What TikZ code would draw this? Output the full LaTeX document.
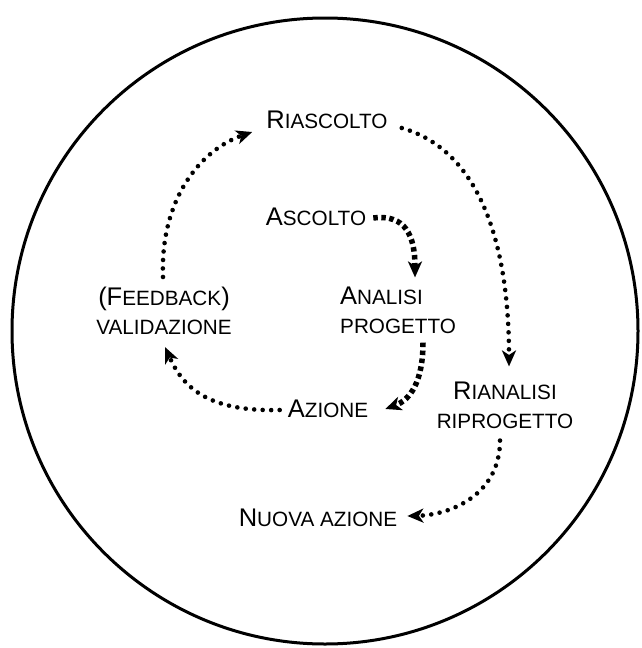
\documentclass[tikz,border=0pt]{standalone}
\usepackage{fontspec}
\setmainfont{Liberation Sans}
\usetikzlibrary{arrows.meta}
\newcommand{\biglet}[1]{{\fontsize{25.5}{29}\selectfont #1}}
\newcommand{\smlet}[1]{{\fontsize{20.7}{29}\selectfont #1}}
\tikzset{
  lbl/.style={inner sep=0pt, align=center, font=\fontsize{20.7}{29}\selectfont},
  thindots/.style={line width=4.6pt, dash pattern=on 0pt off 8.5pt, line cap=round,
    -{Stealth[length=16pt,width=14pt,inset=4.5pt]}},
  thickdots/.style={line width=5.5pt, dash pattern=on 4.5pt off 3.5pt,
    -{Stealth[length=16pt,width=14pt,inset=4.5pt]}},
}
\begin{document}
\begin{tikzpicture}[x=1pt,y=-1pt]
\useasboundingbox (0,0) rectangle (641,648);
\node[circle, draw, line width=3pt, minimum size=626pt, inner sep=0pt] (ring) at (325,331) {};
\node[lbl] (riascolto) at (327,120) {\biglet{R}\smlet{IASCOLTO}};
\node[lbl] (ascolto) at (316,217) {\biglet{A}\smlet{SCOLTO}};
\node[lbl, align=left, anchor=west] (analisi) at (340,310) {\biglet{A}\smlet{NALISI}\\\smlet{PROGETTO}};
\node[lbl] (feedback) at (164,311) {\biglet{(F}\smlet{EEDBACK}\biglet{)}\\\smlet{VALIDAZIONE}};
\node[lbl] (azione) at (328,409) {\biglet{A}\smlet{ZIONE}};
\node[lbl] (rianalisi) at (505,405) {\biglet{R}\smlet{IANALISI}\\\smlet{RIPROGETTO}};
\node[lbl] (nuova) at (318,518) {\biglet{N}\smlet{UOVA AZIONE}};

\draw[thindots] ([shift={(14,8)}]riascolto.east) .. controls (478,150) and (509,240) .. ([shift={(4,-15)}]rianalisi.north);
\draw[thickdots] ([shift={(7,1)}]ascolto.east) .. controls (405,214) and (415,235) .. ([shift={(75,-9)}]analisi.north west);
\draw[thickdots] ([shift={(83,9)}]analisi.south west) .. controls (423,382) and (410,400) .. ([shift={(17,0)}]azione.east);
\draw[thindots] ([shift={(-8,1)}]azione.west) .. controls (205,412) and (182,385) .. ([shift={(1,12)}]feedback.south);
\draw[thindots] ([shift={(-1,-10)}]feedback.north) .. controls (160,200) and (200,150) .. ([shift={(-14,12)}]riascolto.west);
\draw[thindots] ([shift={(-5,12)}]rianalisi.south) .. controls (500,495) and (450,515) .. ([shift={(10,-2)}]nuova.east);
\end{tikzpicture}
\end{document}
